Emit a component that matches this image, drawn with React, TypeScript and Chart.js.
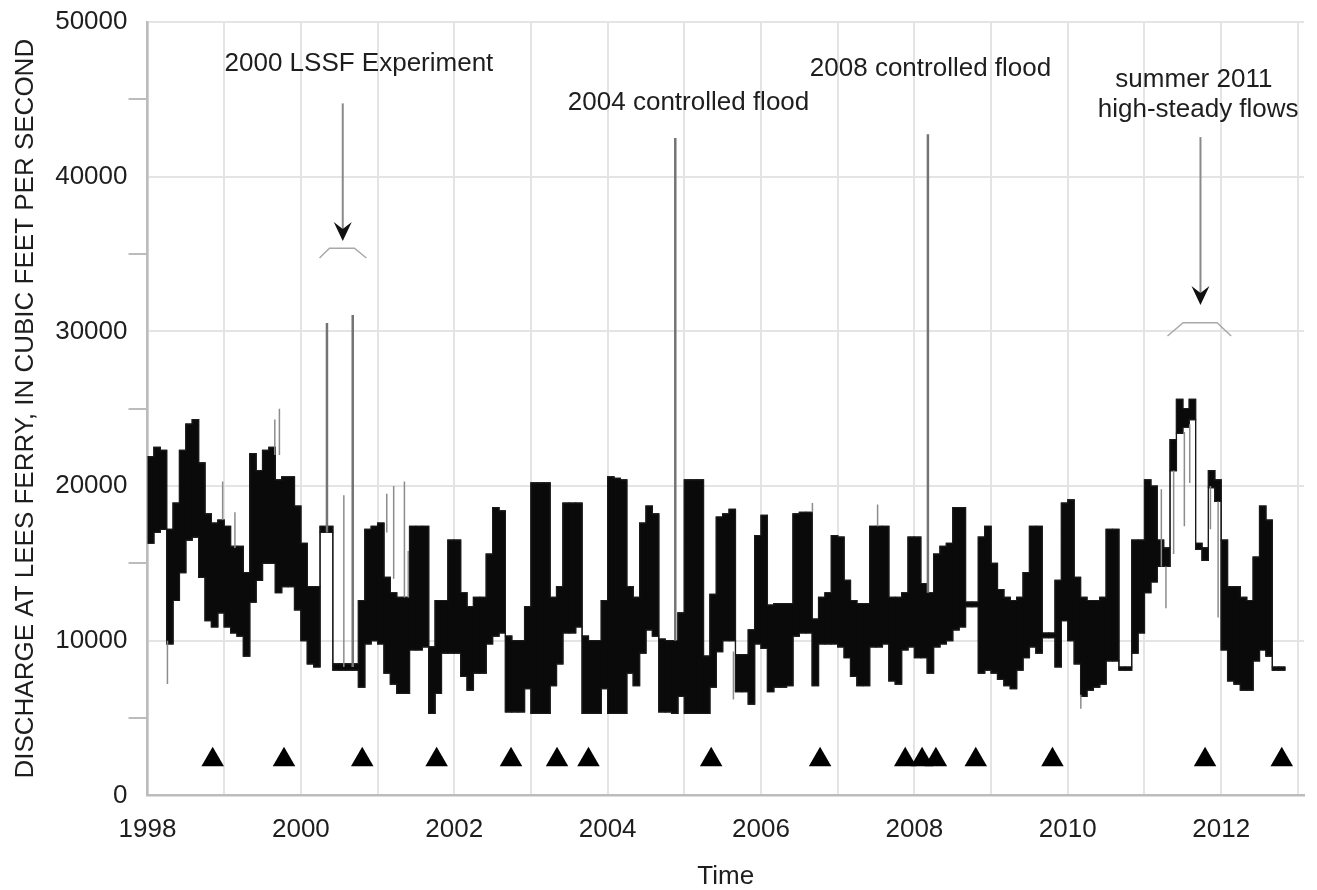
import React, { useEffect, useRef } from 'react';
import { Chart, registerables } from 'chart.js';

Chart.register(...registerables);

// ---------- DATA ----------
const START_YEAR = 1998;

// Monthly upper envelope of hourly discharge (cfs), Jan 1998 - Oct 2012
const flowHigh = [
  // 1998
  21900, 22500, 22300, 17200, 18900, 22300, 24000, 24300, 21500, 18200, 17600, 17800,
  // 1999
  17400, 16100, 16100, 14400, 22100, 21000, 22300, 22500, 20400, 20600, 20600, 18700,
  // 2000
  16300, 13500, 13500, 17400, 17400, 8500, 8500, 8500, 8500, 12600, 17200, 17400,
  // 2001
  17600, 14100, 13100, 12800, 12800, 17400, 17400, 17400, 9600, 12600, 12600, 16500,
  // 2002
  16500, 13100, 12200, 12800, 12800, 15600, 18600, 18400, 10300, 10000, 10000, 12200,
  // 2003
  20200, 20200, 20200, 12800, 13500, 18900, 18900, 18900, 10300, 10000, 10000, 12600,
  // 2004
  20600, 20500, 20400, 13500, 12800, 17600, 18700, 18200, 10100, 10000, 10000, 11800,
  // 2005
  20400, 20400, 20400, 9000, 13000, 18000, 18200, 18500, 9100, 9100, 10700, 16800,
  // 2006
  18100, 12300, 12400, 12400, 12400, 18200, 18300, 18300, 11400, 12800, 13100, 16800,
  // 2007
  16700, 13900, 12600, 12400, 12400, 17400, 17400, 17400, 12800, 12800, 13100, 16700,
  // 2008
  16700, 13700, 13100, 15600, 16100, 16300, 18600, 18600, 12500, 12500, 16700, 17400,
  // 2009
  15000, 13300, 12800, 12600, 12800, 14400, 17400, 17400, 10500, 10500, 13900, 18900,
  // 2010
  19100, 14100, 12800, 12600, 12600, 12800, 17200, 17200, 8300, 8300, 16500, 16500,
  // 2011
  20400, 20000, 16500, 16000, 23000, 25600, 25000, 25600, 16300, 16000, 21000, 20400,
  // 2012
  16500, 13500, 13500, 12800, 12600, 15400, 18700, 17800, 8300, 8300,
];

// Monthly lower envelope of hourly discharge (cfs)
const flowLow = [
  // 1998
  16300, 17000, 17200, 9800, 12600, 14400, 16500, 16700, 14100, 11300, 10900, 11800,
  // 1999
  10900, 10500, 10300, 9000, 12500, 13900, 15000, 15000, 13100, 13500, 13500, 12000,
  // 2000
  10000, 8500, 8300, 17000, 17000, 8100, 8100, 8100, 8100, 7000, 9800, 10000,
  // 2001
  9800, 7900, 7200, 6600, 6600, 9400, 9400, 9600, 5300, 6600, 9200, 9200,
  // 2002
  9200, 7700, 6800, 7900, 7900, 9800, 10300, 10500, 5400, 5400, 5400, 6900,
  // 2003
  5300, 5300, 5300, 7100, 8500, 10500, 10500, 10900, 5300, 5300, 5300, 6900,
  // 2004
  5300, 5300, 5300, 7900, 7100, 9200, 10700, 10300, 5400, 5400, 5300, 6400,
  // 2005
  5300, 5300, 5300, 5300, 7000, 9300, 10000, 10000, 6700, 6700, 5900, 9800,
  // 2006
  9500, 6700, 7000, 7000, 7100, 10300, 10500, 10500, 7100, 9800, 9800, 9800,
  // 2007
  9600, 8900, 7700, 7100, 7100, 9600, 9600, 9800, 7400, 7200, 9400, 9600,
  // 2008
  8900, 8900, 7900, 9600, 9800, 10000, 10700, 10900, 12200, 12200, 7900, 8100,
  // 2009
  7900, 7500, 7100, 6900, 8100, 8900, 9600, 9200, 10200, 10200, 8300, 11300,
  // 2010
  10000, 8500, 6400, 6800, 7000, 7200, 8700, 8700, 8100, 8100, 9200, 10500,
  // 2011
  13100, 13800, 14800, 14800, 21000, 23400, 23800, 24300, 15900, 15200, 19900, 19000,
  // 2012
  9400, 7400, 7200, 6800, 6800, 8700, 9400, 9000, 8100, 8100,
];

// High-flow experiments (thin gray peaks)
const floodYear = [2000.34, 2000.676, 2004.882, 2008.176];
const floodBase = [17000, 8300, 10000, 13100];
const floodPeak = [30540, 31050, 42500, 42750];

// Brief excursions outside the monthly envelope
const minorYear = [1998.26, 1998.98, 1999.14, 1999.66, 1999.72, 2000.56, 2001.12, 2001.21, 2001.35, 2001.4, 2005.64, 2006.67, 2007.52, 2010.17, 2011.22, 2011.28, 2011.38, 2011.52, 2011.59, 2011.86, 2011.96];
const minorLow = [7200, 17800, 16000, 22000, 22000, 8300, 17000, 14000, 12800, 12800, 6200, 18300, 17400, 5600, 14800, 12100, 15600, 17400, 20200, 17200, 11500];
const minorHigh = [10000, 20300, 18300, 24300, 25000, 19400, 19500, 20000, 20300, 15800, 9300, 18900, 18800, 6500, 19800, 14800, 21000, 23500, 24000, 20000, 19000];

// Triangle markers
const markerYear = [1998.85, 1999.78, 2000.8, 2001.77, 2002.74, 2003.34, 2003.75, 2005.35, 2006.77, 2007.88, 2008.1, 2008.28, 2008.8, 2009.8, 2011.79, 2012.79];
const markerFlow = 2300;

// Axis tick labels
const yTickLabels = ['0', '10000', '20000', '30000', '40000', '50000'];
const xTickLabels = ['1998', '2000', '2002', '2004', '2006', '2008', '2010', '2012'];

// Annotations (data units)
const noteText = ['2000 LSSF Experiment', '2004 controlled flood', '2008 controlled flood', 'summer 2011', 'high-steady flows'];
const noteYear = [2000.757, 2005.055, 2008.21, 2011.644, 2011.7];
const noteFlow = [46830, 44310, 46500, 45810, 43880];
const arrowYear = [2000.546, 2011.73];
const arrowTopFlow = [44740, 42560];
const arrowTipFlow = [35840, 31700];
const bracketYears = [
  [2000.243, 2000.373, 2000.698, 2000.854],
  [2011.3, 2011.505, 2011.947, 2012.13],
];
const bracketFlows = [
  [34740, 35380, 35380, 34740],
  [29700, 30560, 30560, 29700],
];

// ---------- CHART ----------
const FONT = '"Liberation Sans", Arial, Helvetica, sans-serif';
const TEXT = '#1e1e1e';

function monthBars(high: number[], low: number[]) {
  return high.map((h, i) => ({ x: START_YEAR + (i + 0.5) / 12, y: [low[i], h] }));
}

// step outline: each month's value held from its start to the next month
function monthSteps(values: number[]) {
  const pts = values.map((v, i) => ({ x: START_YEAR + i / 12, y: v }));
  pts.push({ x: START_YEAR + values.length / 12, y: values[values.length - 1] });
  return pts;
}

function segmentSeries(xs: number[], lo: number[], hi: number[]) {
  const pts: any[] = [];
  xs.forEach((x, i) => {
    pts.push({ x, y: lo[i] });
    pts.push({ x, y: hi[i] });
    pts.push({ x, y: null });
  });
  return pts;
}

const annotationPlugin = {
  id: 'annotations',
  afterDatasetsDraw(chart: any) {
    const { ctx } = chart;
    const xs = chart.scales.x;
    const ys = chart.scales.y;
    ctx.save();
    ctx.font = `26px ${FONT}`;
    ctx.fillStyle = TEXT;
    ctx.textAlign = 'center';
    ctx.textBaseline = 'alphabetic';
    noteText.forEach((t, i) => {
      ctx.fillText(t, xs.getPixelForValue(noteYear[i]), ys.getPixelForValue(noteFlow[i]));
    });
    arrowYear.forEach((yr, i) => {
      const px = xs.getPixelForValue(yr);
      const top = ys.getPixelForValue(arrowTopFlow[i]);
      const tip = ys.getPixelForValue(arrowTipFlow[i]);
      ctx.strokeStyle = '#8a8a8a';
      ctx.lineWidth = 2;
      ctx.beginPath();
      ctx.moveTo(px, top);
      ctx.lineTo(px, tip - 10);
      ctx.stroke();
      ctx.fillStyle = '#111';
      ctx.beginPath();
      ctx.moveTo(px, tip);
      ctx.lineTo(px - 9, tip - 19);
      ctx.lineTo(px, tip - 12);
      ctx.lineTo(px + 9, tip - 19);
      ctx.closePath();
      ctx.fill();
      ctx.strokeStyle = '#a8a8a8';
      ctx.lineWidth = 1.5;
      ctx.beginPath();
      bracketYears[i].forEach((by, j) => {
        const bx = xs.getPixelForValue(by);
        const bpy = ys.getPixelForValue(bracketFlows[i][j]);
        if (j === 0) ctx.moveTo(bx, bpy);
        else ctx.lineTo(bx, bpy);
      });
      ctx.stroke();
    });
    ctx.restore();
  },
};

export default function App() {
  const canvasRef = useRef<HTMLCanvasElement | null>(null);

  useEffect(() => {
    document.body.style.margin = '0';
    const canvas = canvasRef.current;
    if (!canvas) return;
    const tickFont = { family: FONT, size: 26 };

    const chart = new Chart(canvas, {
      type: 'line',
      data: {
        datasets: [
          {
            type: 'bar',
            label: 'hourly range',
            data: monthBars(flowHigh, flowLow),
            backgroundColor: '#0a0a0a',
            borderWidth: 0,
            barPercentage: 1,
            categoryPercentage: 1,
            inflateAmount: 0.6,
            order: 4,
          },
          {
            label: 'max outline',
            data: monthSteps(flowHigh),
            stepped: 'before',
            borderColor: '#1a1a1a',
            borderWidth: 1.2,
            pointRadius: 0,
            fill: false,
            order: 3,
          },
          {
            label: 'min outline',
            data: monthSteps(flowLow),
            stepped: 'before',
            borderColor: '#1a1a1a',
            borderWidth: 1.2,
            pointRadius: 0,
            fill: false,
            order: 3,
          },
          {
            label: 'minor',
            data: segmentSeries(minorYear, minorLow, minorHigh),
            borderColor: '#8c8c8c',
            borderWidth: 1.5,
            pointRadius: 0,
            spanGaps: false,
            fill: false,
            order: 2,
          },
          {
            label: 'floods',
            data: segmentSeries(floodYear, floodBase, floodPeak),
            borderColor: '#747474',
            borderWidth: 2.5,
            pointRadius: 0,
            spanGaps: false,
            fill: false,
            order: 1,
          },
          {
            label: 'markers',
            data: markerYear.map((x) => ({ x, y: markerFlow })),
            showLine: false,
            pointStyle: 'triangle',
            pointRadius: 13,
            pointHoverRadius: 13,
            pointBackgroundColor: '#000',
            pointBorderWidth: 0,
            borderColor: '#000',
            order: 0,
          },
        ],
      },
      options: {
        responsive: false,
        animation: false,
        events: [],
        layout: { padding: { left: 0, right: 10, top: 22, bottom: 0 } },
        plugins: {
          legend: { display: false },
          tooltip: { enabled: false },
        },
        scales: {
          x: {
            type: 'linear',
            min: 1998,
            max: 2013.08,
            offset: false,
            afterFit: (s: any) => {
              s.height = 94.6;
            },
            border: { color: '#bcbcbc', width: 2.5 },
            grid: { color: '#e4e4e4', lineWidth: 2, drawTicks: false, offset: false },
            ticks: {
              stepSize: 1,
              includeBounds: false,
              autoSkip: false,
              maxRotation: 0,
              padding: 19,
              font: tickFont,
              color: TEXT,
              callback: (v: any) => {
                const s = String(v);
                return xTickLabels.includes(s) ? s : '';
              },
            },
            title: {
              display: true,
              text: 'Time',
              font: { family: FONT, size: 26, lineHeight: 1 },
              color: TEXT,
              padding: { top: 0, bottom: 0 },
            },
          },
          y: {
            min: 0,
            max: 50000,
            afterFit: (s: any) => {
              s.width = 147.5;
            },
            border: { color: '#bcbcbc', width: 2.5 },
            grid: {
              lineWidth: 2,
              tickLength: 19,
              color: (c: any) => (c.tick && c.tick.value % 10000 === 0 ? '#e4e4e4' : 'rgba(0,0,0,0)'),
              tickColor: (c: any) => (c.tick && c.tick.value % 10000 === 0 ? 'rgba(0,0,0,0)' : '#bcbcbc'),
            },
            ticks: {
              stepSize: 5000,
              padding: 1,
              font: tickFont,
              color: TEXT,
              callback: (v: any) => {
                const s = String(v);
                return yTickLabels.includes(s) ? s : '';
              },
            },
            title: {
              display: true,
              text: 'DISCHARGE AT LEES FERRY, IN CUBIC FEET PER SECOND',
              font: { family: FONT, size: 26 },
              color: TEXT,
              padding: { top: 10, bottom: 0 },
            },
          },
        },
      },
      plugins: [annotationPlugin],
    } as any);

    return () => chart.destroy();
  }, []);

  return (
    <div style={{ width: 1317, height: 890, background: '#fff' }}>
      <canvas ref={canvasRef} width={1317} height={890} style={{ display: 'block' }} />
    </div>
  );
}
